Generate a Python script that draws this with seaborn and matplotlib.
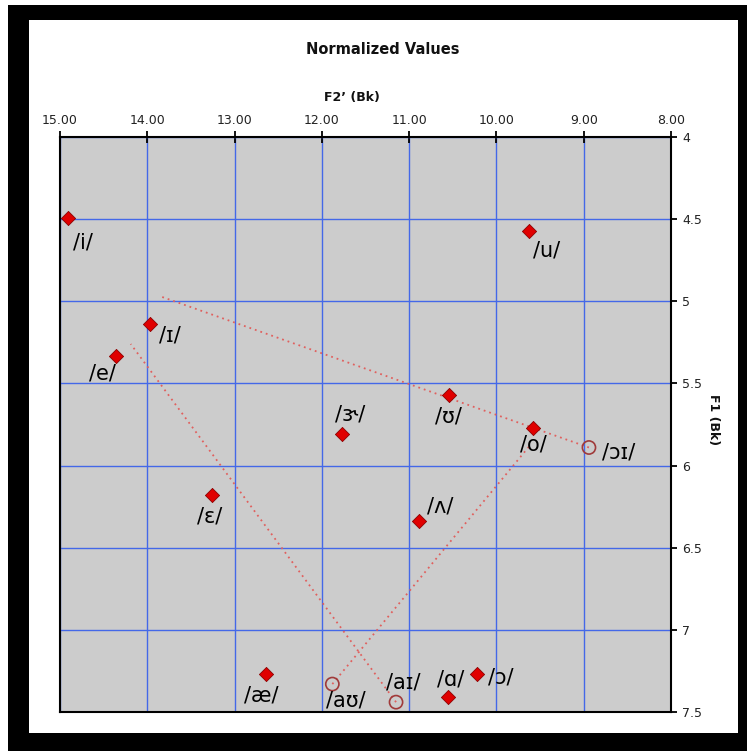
import matplotlib
matplotlib.use('Agg')
import matplotlib.pyplot as plt
import seaborn as sns
import pandas as pd
from matplotlib.patches import Rectangle

# ---------------- data ----------------
vowels = ['/i/', '/ɪ/', '/e/', '/ɛ/', '/æ/', '/ɝ/', '/ʌ/', '/u/', '/ʊ/', '/o/', '/ɔ/', '/ɑ/']
vowel_f2 = [14.91, 13.97, 14.36, 13.26, 12.64, 11.77, 10.89, 9.63, 10.54, 9.58, 10.22, 10.56]
vowel_f1 = [4.49, 5.14, 5.33, 6.18, 7.27, 5.81, 6.34, 4.57, 5.57, 5.77, 7.27, 7.41]
label_f2 = [14.74, 13.74, 14.51, 13.29, 12.70, 11.68, 10.65, 9.43, 10.55, 9.58, 9.95, 10.53]
label_f1 = [4.64, 5.21, 5.44, 6.31, 7.40, 5.69, 6.25, 4.69, 5.70, 5.87, 7.29, 7.30]

diphthongs = ['/ɔɪ/', '/aɪ/', '/aʊ/']
diph_start_f2 = [8.94, 11.15, 11.88]
diph_start_f1 = [5.89, 7.44, 7.33]
diph_end_f2 = [13.85, 14.19, 9.62]
diph_end_f1 = [4.97, 5.26, 5.88]
diph_label_f2 = [8.60, 11.07, 11.73]
diph_label_f1 = [5.92, 7.32, 7.43]

x_ticks = [15, 14, 13, 12, 11, 10, 9, 8]
y_ticks = [4, 4.5, 5, 5.5, 6, 6.5, 7, 7.5]
y_tick_labels = ['4', '4.5', '5', '5.5', '6', '6.5', '7', '7.5']

title = 'Normalized Values'
x_label = 'F2’ (Bk)'
y_label = 'F1 (Bk)'

# ---------------- figure ----------------
sns.set_theme(style='white')
plt.rcParams['font.family'] = ['DejaVu Sans']

W, H = 747, 751
fig = plt.figure(figsize=(W / 100, H / 100), dpi=100)
fig.patch.set_facecolor('white')

# black frame + white inner panel
fig.patches.append(Rectangle((8 / W, 0), (W - 8) / W, (H - 5) / H,
                             transform=fig.transFigure, facecolor='black',
                             edgecolor='none', zorder=-10))
fig.patches.append(Rectangle((29 / W, 18 / H), 709 / W, 713 / H,
                             transform=fig.transFigure, facecolor='white',
                             edgecolor='none', zorder=-9))

ax = fig.add_axes([60 / W, 1 - 712 / H, 611 / W, 575 / H])
ax.set_facecolor('#cccccc')

vdf = pd.DataFrame({'F2': vowel_f2, 'F1': vowel_f1, 'vowel': vowels})
ddf = pd.DataFrame({'F2': diph_start_f2, 'F1': diph_start_f1, 'vowel': diphthongs})

# dotted diphthong trajectories
for i in range(len(diphthongs)):
    seg = pd.DataFrame({'F2': [diph_start_f2[i], diph_end_f2[i]],
                        'F1': [diph_start_f1[i], diph_end_f1[i]]})
    sns.lineplot(data=seg, x='F2', y='F1', sort=False, estimator=None, ax=ax,
                 color='#e0605e', linewidth=1.3, linestyle=(0, (1, 2.2)),
                 zorder=3, legend=False)

sns.scatterplot(data=vdf, x='F2', y='F1', marker='D', s=52, color='#e00000',
                edgecolor='#8c0000', linewidth=0.6, ax=ax, zorder=5, legend=False)
sns.scatterplot(data=ddf, x='F2', y='F1', marker='o', s=90, facecolor='none',
                edgecolor='#a03a3a', linewidth=1.2, ax=ax, zorder=5, legend=False)

lab_font = ['DejaVu Sans']
for name, lx, ly in zip(vowels, label_f2, label_f1):
    ax.text(lx, ly, name, ha='center', va='center', fontsize=15,
            family=lab_font, color='black', zorder=6)
for name, lx, ly in zip(diphthongs, diph_label_f2, diph_label_f1):
    ax.text(lx, ly, name, ha='center', va='center', fontsize=15,
            family=lab_font, color='black', zorder=6)

# axes
ax.set_xlim(15, 8)
ax.set_ylim(7.5, 4)
ax.set_xticks(x_ticks)
ax.set_xticklabels([f'{v:.2f}' for v in x_ticks])
ax.set_yticks(y_ticks)
ax.set_yticklabels(y_tick_labels)

ax.xaxis.tick_top()
ax.xaxis.set_label_position('top')
ax.yaxis.tick_right()
ax.yaxis.set_label_position('right')

ax.grid(True, color='#4468e8', linewidth=1.0)
ax.set_axisbelow(True)

for s in ax.spines.values():
    s.set_visible(True)
    s.set_color('black')
    s.set_linewidth(1.5)

ax.tick_params(axis='x', which='major', top=True, bottom=False, direction='inout',
               length=8, width=1.3, color='black', labelsize=9, pad=3,
               labelcolor='#222222')
ax.tick_params(axis='y', which='major', right=True, left=False, direction='out',
               length=4, width=1.3, color='black', labelsize=9, pad=4,
               labelcolor='#222222')

ax.set_xlabel(x_label, fontsize=9, fontweight='bold', color='#111111')
ax.xaxis.set_label_coords(0.478, 1.068)
ax.xaxis.label.set_va('center')
ax.set_ylabel(y_label, fontsize=9, fontweight='bold', color='#111111', rotation=-90)
ax.yaxis.set_label_coords(1.069, 0.508)
ax.yaxis.label.set_va('center')

fig.text(383 / W, 1 - 50 / H, title, ha='center', va='center', fontsize=10.5,
         fontweight='bold', color='#111111')

fig.savefig('out.png', dpi=100, facecolor=fig.get_facecolor())
